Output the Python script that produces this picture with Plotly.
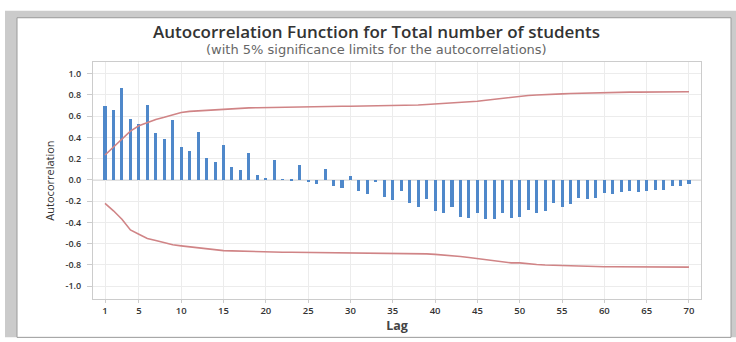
import plotly.graph_objects as go

lags = list(range(1, 71))
acf = [0.70, 0.66, 0.87, 0.57, 0.53, 0.71, 0.44, 0.39, 0.56, 0.31,
       0.27, 0.45, 0.21, 0.17, 0.33, 0.12, 0.09, 0.25, 0.05, 0.02,
       0.19, 0.005, -0.01, 0.14, -0.02, -0.04, 0.10, -0.06, -0.08, 0.04,
       -0.10, -0.13, -0.02, -0.16, -0.19, -0.10, -0.22, -0.25, -0.18, -0.29,
       -0.31, -0.25, -0.35, -0.36, -0.31, -0.37, -0.37, -0.31, -0.36, -0.35,
       -0.28, -0.31, -0.29, -0.22, -0.25, -0.23, -0.17, -0.18, -0.17, -0.12,
       -0.13, -0.11, -0.10, -0.11, -0.10, -0.09, -0.09, -0.06, -0.06, -0.04]
upper_limit = [0.235, 0.31, 0.385, 0.46, 0.51, 0.54, 0.57, 0.59, 0.61, 0.635,
               0.645, 0.65, 0.66, 0.665, 0.67, 0.673, 0.676, 0.678, 0.68, 0.682,
               0.684, 0.686, 0.688, 0.69, 0.69, 0.69, 0.691, 0.692, 0.693, 0.694,
               0.695, 0.696, 0.697, 0.698, 0.699, 0.70, 0.70, 0.705, 0.71, 0.714,
               0.718, 0.722, 0.73, 0.735, 0.74, 0.75, 0.76, 0.77, 0.78, 0.79,
               0.795, 0.80, 0.805, 0.808, 0.81, 0.813, 0.816, 0.819, 0.822, 0.824,
               0.825, 0.826, 0.827, 0.827, 0.828, 0.828, 0.829, 0.829, 0.83, 0.83]
lower_limit = [-0.22, -0.29, -0.37, -0.47, -0.51, -0.55, -0.57, -0.59, -0.61, -0.62,
               -0.63, -0.64, -0.65, -0.66, -0.665, -0.667, -0.67, -0.675, -0.676, -0.678,
               -0.68, -0.68, -0.68, -0.681, -0.682, -0.682, -0.683, -0.683, -0.684, -0.684,
               -0.685, -0.685, -0.685, -0.685, -0.686, -0.687, -0.688, -0.69, -0.695, -0.70,
               -0.705, -0.71, -0.72, -0.73, -0.74, -0.75, -0.76, -0.77, -0.78, -0.78,
               -0.79, -0.795, -0.80, -0.803, -0.805, -0.808, -0.81, -0.812, -0.814, -0.816,
               -0.817, -0.818, -0.82, -0.82, -0.82, -0.82, -0.82, -0.82, -0.82, -0.82]
x_ticks = [1, 5, 10, 15, 20, 25, 30, 35, 40, 45, 50, 55, 60, 65, 70]
y_ticks = [1.0, 0.8, 0.6, 0.4, 0.2, 0.0, -0.2, -0.4, -0.6, -0.8, -1.0]
y_tick_labels = ["1.0", "0.8", "0.6", "0.4", "0.2", "0.0", "-0.2", "-0.4", "-0.6", "-0.8", "-1.0"]

W, H = 736, 342
L, R, T, B = 93, 35, 62, 39
pw, ph = W - L - R, H - T - B

def px(x):
    return (x - L) / pw

def py(y):
    return (H - B - y) / ph

fig = go.Figure()
fig.add_trace(go.Bar(x=lags, y=acf, width=0.36, marker=dict(color="#4f88ca", line=dict(width=0)),
                     showlegend=False))
fig.add_trace(go.Scatter(x=lags, y=upper_limit, mode="lines",
                         line=dict(color="#d08486", width=1.6), showlegend=False))
fig.add_trace(go.Scatter(x=lags, y=lower_limit, mode="lines",
                         line=dict(color="#d08486", width=1.6), showlegend=False))

shapes = [
    dict(type="rect", xref="paper", yref="paper", x0=px(5), x1=px(736), y0=py(342), y1=py(10),
         fillcolor="#cbcbcb", line=dict(width=0), layer="below"),
    dict(type="rect", xref="paper", yref="paper", x0=px(17), x1=px(731), y0=py(342), y1=py(17),
         fillcolor="white", line=dict(color="#9a9a9a", width=1), layer="below"),
    dict(type="line", xref="paper", yref="y", x0=0, x1=1, y0=0, y1=0,
         line=dict(color="#bdbdbd", width=1), layer="below"),
]

fig.update_layout(
    width=W, height=H,
    margin=dict(l=L, r=R, t=T, b=B),
    paper_bgcolor="white", plot_bgcolor="white",
    font=dict(family="Open Sans, Noto Sans, sans-serif", color="#333333"),
    bargap=0,
    shapes=shapes,
    annotations=[
        dict(text="Autocorrelation Function for Total number of students",
             xref="paper", yref="paper", x=px(376), y=py(31), showarrow=False,
             xanchor="center", yanchor="middle",
             font=dict(size=17, color="#333333", family="Open Sans, sans-serif", weight=600)),
        dict(text="(with 5% significance limits for the autocorrelations)",
             xref="paper", yref="paper", x=px(376), y=py(49), showarrow=False,
             xanchor="center", yanchor="middle",
             font=dict(size=13, color="#666666", family="DejaVu Sans, sans-serif")),
    ],
    xaxis=dict(range=[-0.42, 71.42], tickmode="array", tickvals=x_ticks,
               ticktext=[str(v) for v in x_ticks],
               showgrid=True, gridcolor="#ececec", gridwidth=1,
               ticks="outside", ticklen=3, tickcolor="#cccccc",
               showline=True, linecolor="#cccccc", mirror=True, zeroline=False,
               tickfont=dict(size=9.5, color="#333333", weight=600),
               title=dict(text="<b>Lag</b>", font=dict(size=12.5, color="#444444"), standoff=4)),
    yaxis=dict(range=[-1.12, 1.11], tickmode="array", tickvals=y_ticks, ticktext=y_tick_labels,
               showgrid=True, gridcolor="#ececec", gridwidth=1,
               ticks="outside", ticklen=5, tickcolor="#cccccc", ticklabelstandoff=4,
               showline=True, linecolor="#cccccc", mirror=True, zeroline=False,
               tickfont=dict(size=9, color="#333333", weight=600),
               title=dict(text="Autocorrelation", font=dict(size=11, color="#333333"), standoff=8)),
)

fig.write_html("out.html")
